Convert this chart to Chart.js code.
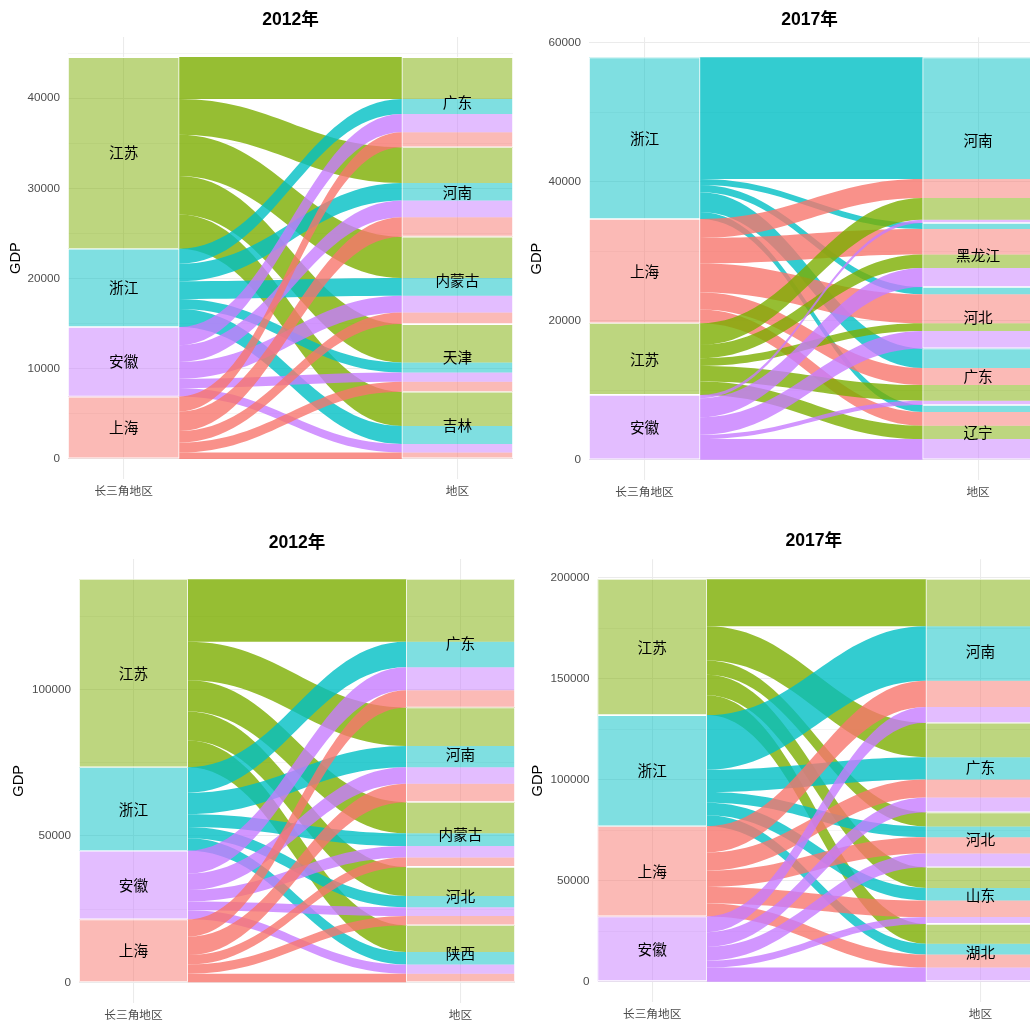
<!DOCTYPE html>
<html>
<head>
<meta charset="utf-8">
<script src="https://cdn.jsdelivr.net/npm/chart.js@4.4.1/dist/chart.umd.min.js"></script>
<style>
  html, body { margin:0; padding:0; background:#ffffff; width:1030px; height:1021px; overflow:hidden; }
  .panel { position:absolute; }
  canvas { display:block; }
</style>
</head>
<body>
<div class="panel" style="left:0px;top:0px;"><canvas id="c1" width="515" height="515"></canvas></div>
<div class="panel" style="left:515px;top:0px;"><canvas id="c2" width="515" height="515"></canvas></div>
<div class="panel" style="left:0px;top:515px;"><canvas id="c3" width="515" height="506"></canvas></div>
<div class="panel" style="left:515px;top:515px;"><canvas id="c4" width="515" height="506"></canvas></div>
<script>
// ---------------- DATA ----------------
const xLabels = ['长三角地区', '地区'];
const yTitle = 'GDP';
const provinceColors = { '上海': '#F8766D', '江苏': '#7CAE00', '浙江': '#00BFC4', '安徽': '#C77CFF' };

// Panel 1 : 2012年
const p1Title = '2012年';
const p1Provinces = ['江苏', '浙江', '安徽', '上海'];
const p1Regions = ['广东', '河南', '内蒙古', '天津', '吉林'];
const p1Jiangsu  = [4650, 3950, 4600, 4250, 3800];
const p1Zhejiang = [1660, 1960, 1960, 1110, 1990];
const p1Anhui    = [2030, 1850, 1850, 1030, 960];
const p1Shanghai = [1660, 2150, 1290, 1110, 700];
const p1YMajor = [0, 10000, 20000, 30000, 40000];
const p1YMinor = [5000, 15000, 25000, 35000, 45000];

// Panel 2 : 2017年
const p2Title = '2017年';
const p2Provinces = ['浙江', '上海', '江苏', '安徽'];
const p2Regions = ['河南', '黑龙江', '河北', '广东', '辽宁'];
const p2Zhejiang = [17500, 860, 1050, 2830, 1010];
const p2Shanghai = [2730, 3690, 4170, 2440, 1970];
const p2Jiangsu  = [3120, 1920, 1100, 2250, 1920];
const p2Anhui    = [480, 2750, 2500, 620, 3000];
const p2YMajor = [0, 20000, 40000, 60000];
const p2YMinor = [10000, 30000, 50000];

// Panel 3 : 2012年
const p3Title = '2012年';
const p3Provinces = ['江苏', '浙江', '安徽', '上海'];
const p3Regions = ['广东', '河南', '内蒙古', '河北', '陕西'];
const p3Jiangsu  = [21400, 13100, 10650, 9900, 9150];
const p3Zhejiang = [8700, 7300, 4350, 3850, 4300];
const p3Anhui    = [7800, 5600, 3900, 3000, 3100];
const p3Shanghai = [5900, 6300, 3200, 3150, 2950];
const p3YMajor = [0, 50000, 100000];
const p3YMinor = [25000, 75000, 125000];

// Panel 4 : 2017年
const p4Title = '2017年';
const p4Provinces = ['江苏', '浙江', '上海', '安徽'];
const p4Regions = ['河南', '广东', '河北', '山东', '湖北'];
const p4Jiangsu  = [23200, 17000, 7000, 10200, 9800];
const p4Zhejiang = [27000, 11100, 5300, 6200, 5400];
const p4Shanghai = [13000, 8900, 8100, 8200, 6400];
const p4Anhui    = [7800, 7300, 6800, 3400, 7000];
const p4YMajor = [0, 50000, 100000, 150000, 200000];
const p4YMinor = [25000, 75000, 125000, 175000];

// ---------------- STYLE / LAYOUT ----------------
const STRATUM_W = 1/3;
const STRATUM_ALPHA = 0.5;
const FLOW_ALPHA = 0.8;
const KNOT = 0.42;
const FONT_LATIN = '"Liberation Sans", Arial, "Noto Sans CJK SC", sans-serif';
const FONT_CJK = '"Noto Sans CJK SC", "Liberation Sans", sans-serif';

function rgba(hex, a) {
  const n = parseInt(hex.slice(1), 16);
  return 'rgba(' + ((n >> 16) & 255) + ',' + ((n >> 8) & 255) + ',' + (n & 255) + ',' + a + ')';
}
function sum(arr) { return arr.reduce((a, b) => a + b, 0); }

function buildPanel(canvasId, title, provinces, regions, values, yMajor, yMinor, L) {
  const total = sum(values.map(sum));
  const yTicks = yMajor.concat(yMinor).sort((a, b) => a - b);

  // left stacking (province blocks, flows inside in region order)
  const leftBlocks = [], flowLeft = [];
  let top = total;
  values.forEach((row, p) => {
    const t = sum(row);
    leftBlocks[p] = [top - t, top];
    flowLeft[p] = [];
    let c = top;
    row.forEach((v, r) => { flowLeft[p][r] = [c - v, c]; c -= v; });
    top -= t;
  });
  // right stacking (region blocks, lodes inside in province order)
  const regionBlocks = [], flowRight = values.map(() => []);
  top = total;
  regions.forEach((reg, r) => {
    const t = sum(values.map(row => row[r]));
    regionBlocks[r] = [top - t, top];
    let c = top;
    values.forEach((row, p) => { flowRight[p][r] = [c - row[r], c]; c -= row[r]; });
    top -= t;
  });

  const datasets = provinces.map((name, p) => ({
    label: name,
    data: [{ x: 1, y: leftBlocks[p] }].concat(regions.map((_, r) => ({ x: 2, y: flowRight[p][r] }))),
    backgroundColor: rgba(provinceColors[name], STRATUM_ALPHA),
    borderWidth: 0,
    grouped: false,
    categoryPercentage: 1,
    barPercentage: STRATUM_W,
    order: 2
  }));
  datasets.push({
    label: 'strata',
    data: leftBlocks.map(b => ({ x: 1, y: b })).concat(regionBlocks.map(b => ({ x: 2, y: b }))),
    backgroundColor: 'rgba(0,0,0,0)',
    borderColor: '#ffffff',
    borderWidth: 0.8,
    borderSkipped: false,
    grouped: false,
    categoryPercentage: 1,
    barPercentage: STRATUM_W,
    order: 0
  });

  const alluvialPlugin = {
    id: 'alluvial_' + canvasId,
    beforeDatasetsDraw(chart) {
      const ctx = chart.ctx, xs = chart.scales.x, ys = chart.scales.y, a = chart.chartArea;
      const xa = xs.getPixelForValue(1 + STRATUM_W / 2);
      const xb = xs.getPixelForValue(2 - STRATUM_W / 2);
      const c1 = xa + (xb - xa) * KNOT, c2 = xb - (xb - xa) * KNOT;
      ctx.save();
      ctx.beginPath(); ctx.rect(a.left, a.top, a.right - a.left, a.bottom - a.top); ctx.clip();
      // alluvia drawn in order of the first-axis strata (top stratum first)
      provinces.forEach((name, p) => {
        ctx.fillStyle = rgba(provinceColors[name], FLOW_ALPHA);
        regions.forEach((_, r) => {
          const lt = ys.getPixelForValue(flowLeft[p][r][1]), lb = ys.getPixelForValue(flowLeft[p][r][0]);
          const rt = ys.getPixelForValue(flowRight[p][r][1]), rb = ys.getPixelForValue(flowRight[p][r][0]);
          ctx.beginPath();
          ctx.moveTo(xa, lt);
          ctx.bezierCurveTo(c1, lt, c2, rt, xb, rt);
          ctx.lineTo(xb, rb);
          ctx.bezierCurveTo(c2, rb, c1, lb, xa, lb);
          ctx.closePath();
          ctx.fill();
        });
      });
      ctx.restore();
    },
    afterDatasetsDraw(chart) {
      const ctx = chart.ctx, xs = chart.scales.x, ys = chart.scales.y;
      ctx.save();
      ctx.font = '14.67px ' + FONT_CJK;
      ctx.fillStyle = '#000000';
      ctx.textAlign = 'center';
      ctx.textBaseline = 'middle';
      provinces.forEach((name, p) => {
        ctx.fillText(name, xs.getPixelForValue(1), ys.getPixelForValue((leftBlocks[p][0] + leftBlocks[p][1]) / 2));
      });
      regions.forEach((name, r) => {
        ctx.fillText(name, xs.getPixelForValue(2), ys.getPixelForValue((regionBlocks[r][0] + regionBlocks[r][1]) / 2));
      });
      ctx.restore();
    }
  };

  return new Chart(document.getElementById(canvasId), {
    type: 'bar',
    data: { datasets },
    plugins: [alluvialPlugin],
    options: {
      responsive: false,
      animation: false,
      events: [],
      devicePixelRatio: 1,
      layout: { padding: { left: 0, right: L.padRight, top: 0, bottom: 0 } },
      plugins: {
        legend: { display: false },
        tooltip: { enabled: false },
        title: {
          display: true, text: title, fullSize: false, color: '#000000',
          font: { family: FONT_LATIN, size: 17.6, weight: 'bold', lineHeight: 1.2 },
          padding: L.titlePad
        }
      },
      scales: {
        x: {
          type: 'linear', min: 1 - STRATUM_W / 2, max: L.xMax, offset: false,
          afterBuildTicks: s => { s.ticks = [{ value: 1 }, { value: 2 }]; },
          afterFit: s => { s.height = L.xHeight; },
          grid: { color: '#EBEBEB', lineWidth: 1.07, drawTicks: false, offset: false },
          border: { display: false },
          ticks: {
            autoSkip: false, maxRotation: 0, minRotation: 0, padding: 5, color: '#4D4D4D',
            font: { family: FONT_CJK, size: 11.7 },
            callback: v => (v === 1 ? xLabels[0] : (v === 2 ? xLabels[1] : ''))
          }
        },
        y: {
          type: 'linear', min: -0.05 * total, max: 1.05 * total,
          afterBuildTicks: s => { s.ticks = yTicks.map(v => ({ value: v })); },
          afterFit: s => { s.width = L.yWidth; },
          grid: {
            color: '#EBEBEB', drawTicks: false,
            lineWidth: c => (c.tick && yMajor.includes(c.tick.value) ? 1.07 : 0.53)
          },
          border: { display: false },
          ticks: {
            autoSkip: false, padding: 8, color: '#4D4D4D',
            font: { family: FONT_LATIN, size: 11.7 },
            callback: v => (yMajor.includes(v) ? String(v) : '')
          },
          title: {
            display: true, text: yTitle, color: '#000000',
            font: { family: FONT_LATIN, size: 14.67, lineHeight: 1.2 },
            padding: { top: L.yTitlePad, bottom: 0 }
          }
        }
      }
    }
  });
}

buildPanel('c1', p1Title, p1Provinces, p1Regions, [p1Jiangsu, p1Zhejiang, p1Anhui, p1Shanghai], p1YMajor, p1YMinor,
  { yWidth: 68, xHeight: 36, padRight: 2, titlePad: { top: 9.44, bottom: 6.44 }, yTitlePad: 7.2, xMax: 2 + 1/6 });
buildPanel('c2', p2Title, p2Provinces, p2Regions, [p2Zhejiang, p2Shanghai, p2Jiangsu, p2Anhui], p2YMajor, p2YMinor,
  { yWidth: 74, xHeight: 35, padRight: 0, titlePad: { top: 9.44, bottom: 6.64 }, yTitlePad: 12.7, xMax: 2.1557 });
buildPanel('c3', p3Title, p3Provinces, p3Regions, [p3Jiangsu, p3Zhejiang, p3Anhui, p3Shanghai], p3YMajor, p3YMinor,
  { yWidth: 79, xHeight: 18.5, padRight: 0, titlePad: { top: 17.44, bottom: 5.44 }, yTitlePad: 10.4, xMax: 2 + 1/6 });
buildPanel('c4', p4Title, p4Provinces, p4Regions, [p4Jiangsu, p4Zhejiang, p4Shanghai, p4Anhui], p4YMajor, p4YMinor,
  { yWidth: 82.5, xHeight: 19.2, padRight: 0, titlePad: { top: 15.44, bottom: 7.64 }, yTitlePad: 14.2, xMax: 2.1507 });
</script>
</body>
</html>
